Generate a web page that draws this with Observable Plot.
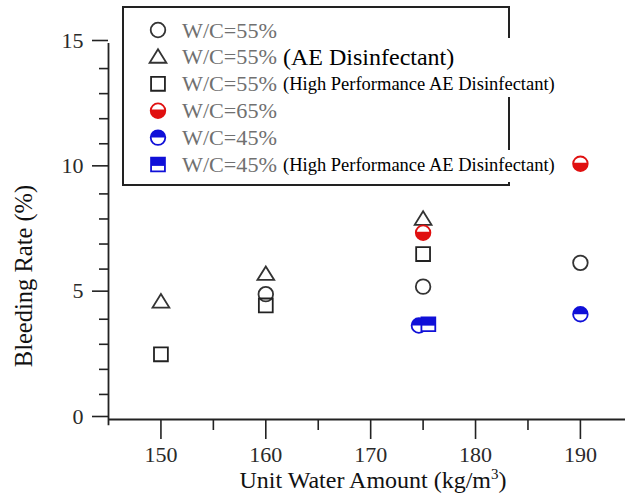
<!DOCTYPE html>
<html><head><meta charset="utf-8">
<script src="https://cdn.jsdelivr.net/npm/d3@7"></script>
<script src="https://cdn.jsdelivr.net/npm/@observablehq/plot@0.6"></script>
<style>body{margin:0;background:#fff}</style>
</head><body><div id="chart"></div>
<script>
// ---- data ----
const xMajorTicks = [150, 160, 170, 180, 190];
const xMinorTicks = [155, 165, 175, 185];
const yMajorTicks = [0, 5, 10, 15];
const yMinorTicks = [1,2,3,4,6,7,8,9,11,12,13,14];

const open55Water = [160, 175, 190];
const open55Bleed = [5.0, 5.3, 6.25];
const ae55Water = [150, 160, 175];
const ae55Bleed = [4.7, 5.8, 8.0];
const hp55Water = [150, 160, 175];
const hp55Bleed = [2.6, 4.55, 6.6];
const wc65Water = [175, 190];
const wc65Bleed = [7.45, 10.2];
const wc45Water = [174.6, 190];
const wc45Bleed = [3.75, 4.2];
const hp45Water = [175.5];
const hp45Bleed = [3.8];

const legendLabels = ["W/C=55%", "W/C=55%", "W/C=55%", "W/C=65%", "W/C=45%", "W/C=45%"];
const legendNotes = ["", "(AE Disinfectant)", "(High Performance AE Disinfectant)", "", "", "(High Performance AE Disinfectant)"];

const rows = (xs, ys) => xs.map((x, i) => ({x, y: ys[i]}));

// ---- custom symbols ----
const rad = size => Math.sqrt(size / Math.PI);
const symCircle = {draw(c, size){ const r = rad(size); c.moveTo(r,0); c.arc(0,0,r,0,2*Math.PI); c.closePath(); }};
const symTriangle = {draw(c, size){ const r = rad(size); const w = r*1.15, t = -r*1.05, b = r*0.8; c.moveTo(0,t); c.lineTo(w,b); c.lineTo(-w,b); c.closePath(); }};
const symSquare = {draw(c, size){ const s = rad(size)*0.95; c.rect(-s,-s,2*s,2*s); }};
const symHalfBottom = {draw(c, size){ const r = rad(size); c.moveTo(r,-r*0.15); c.arc(0,0,r,-0.15,Math.PI+0.15); c.closePath(); }};
const symHalfTop = {draw(c, size){ const r = rad(size); c.moveTo(-r,0); c.arc(0,0,r,Math.PI,2*Math.PI); c.closePath(); }};
const symSquareTop = {draw(c, size){ const s = rad(size)*0.95; c.rect(-s,-s,2*s,2*s*0.6); }};

const RED = "#e01010", BLUE = "#1010d8", INK = "#333";
const R = 7.3;

const series = [
  {data: rows(open55Water, open55Bleed), layers: [{symbol: symCircle, fill: "none", stroke: INK}]},
  {data: rows(ae55Water, ae55Bleed), layers: [{symbol: symTriangle, fill: "none", stroke: INK}]},
  {data: rows(hp55Water, hp55Bleed), layers: [{symbol: symSquare, fill: "none", stroke: "#222"}]},
  {data: rows(wc65Water, wc65Bleed), layers: [{symbol: symCircle, fill: "white", stroke: RED}, {symbol: symHalfBottom, fill: RED, stroke: "none"}]},
  {data: rows(wc45Water, wc45Bleed), layers: [{symbol: symCircle, fill: "white", stroke: BLUE}, {symbol: symHalfTop, fill: BLUE, stroke: "none"}]},
  {data: rows(hp45Water, hp45Bleed), layers: [{symbol: symSquare, fill: "white", stroke: BLUE}, {symbol: symSquareTop, fill: BLUE, stroke: "none"}]}
];

const dotMarks = series.flatMap(s => s.layers.map(l =>
  Plot.dot(s.data, {x: "x", y: "y", r: R, symbol: l.symbol, fill: l.fill, stroke: l.stroke, strokeWidth: 1.8})
));

const axisStyle = {stroke: "#222", strokeWidth: 1.6, fill: "#2a2a2a", fontSize: 22, fontFamily: "Liberation Serif"};

const chart = Plot.plot({
  width: 625, height: 497,
  marginLeft: 108, marginRight: 0, marginTop: 43, marginBottom: 78,
  style: {fontFamily: "Liberation Serif", background: "white"},
  x: {domain: [145, 194.3]},
  y: {domain: [0, 15]},
  marks: [
    Plot.axisX({ticks: xMajorTicks, tickSize: 20, tickPadding: 7, label: null, ...axisStyle}),
    Plot.axisX({ticks: xMinorTicks, tickSize: 11, text: null, label: null, stroke: "#222", strokeWidth: 1.6}),
    Plot.axisY({ticks: yMajorTicks, tickSize: 16, tickPadding: 9, dy: -3, label: null, ...axisStyle}),
    Plot.axisY({ticks: yMinorTicks, tickSize: 9, text: null, label: null, stroke: "#222", strokeWidth: 1.6}),
    Plot.ruleY([0], {stroke: "#222", strokeWidth: 1.8}),
    Plot.ruleX([145], {y1: -0.25, y2: 15, stroke: "#222", strokeWidth: 1.8}),
    ...dotMarks
  ]
});

document.getElementById("chart").appendChild(chart);

// ---- axis titles ----
const svg = d3.select(chart);
const xl = svg.append("text").attr("x", 373).attr("y", 488).attr("text-anchor", "middle")
  .attr("font-family", "Liberation Serif").attr("font-size", 24).attr("fill", "#111");
xl.append("tspan").text("Unit Water Amount (kg/m");
xl.append("tspan").attr("font-size", 15).attr("dy", -9).text("3");
xl.append("tspan").attr("dy", 9).text(")");
svg.append("text").attr("transform", "translate(32,276) rotate(-90)").attr("text-anchor", "middle")
  .attr("font-family", "Liberation Serif").attr("font-size", 24.5).attr("fill", "#111")
  .text("Bleeding Rate (%)");

// ---- legend ----
const lg = svg.append("g").attr("text-anchor", "start");
lg.append("rect").attr("x", 123).attr("y", 7).attr("width", 386).attr("height", 178)
  .attr("fill", "white").attr("stroke", "#222").attr("stroke-width", 2);
const rowY = i => 30 + i * 26.9;
series.forEach((s, i) => {
  s.layers.forEach(l => {
    lg.append("path")
      .attr("transform", `translate(158,${rowY(i)})`)
      .attr("d", d3.symbol().type(l.symbol).size(Math.PI * R * R)())
      .attr("fill", l.fill).attr("stroke", l.stroke).attr("stroke-width", 1.8);
  });
  lg.append("text").attr("x", 182).attr("y", rowY(i)).attr("dy", "0.36em").attr("text-anchor", "start")
    .attr("font-family", "Liberation Serif").attr("font-size", 21).attr("fill", "#707070")
    .attr("textLength", 95).attr("lengthAdjust", "spacingAndGlyphs")
    .text(legendLabels[i]);
});
// white patches behind the English notes (they cover the box border)
lg.append("rect").attr("x", 280).attr("y", 38).attr("width", 280).attr("height", 59).attr("fill", "white");
lg.append("rect").attr("x", 280).attr("y", 150).attr("width", 280).attr("height", 32).attr("fill", "white");
legendNotes.forEach((t, i) => {
  if (!t) return;
  lg.append("text").attr("x", 283).attr("y", rowY(i)).attr("dy", "0.35em").attr("text-anchor", "start")
    .attr("font-family", "Liberation Serif").attr("font-size", i === 1 ? 24 : 18.5).attr("fill", "#000")
    .text(t);
});
</script>
</body></html>
